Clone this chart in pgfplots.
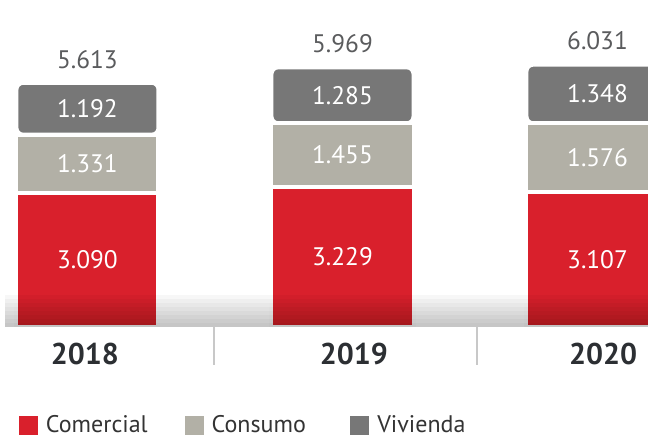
\documentclass[border=0pt]{standalone}
\usepackage{pgfplots}
\pgfplotsset{compat=1.18}
\usepackage{fontspec}
\setmainfont{PT Sans}

\definecolor{comercial}{HTML}{D9202C}
\definecolor{consumo}{HTML}{B2B0A6}
\definecolor{vivienda}{HTML}{777777}
\definecolor{totaltxt}{HTML}{5A5B5D}
\definecolor{yeartxt}{HTML}{2C2F33}
\definecolor{legtxt}{HTML}{333333}
\definecolor{sepgray}{HTML}{C8C8C8}

% 1 px of the reference = 0.75pt; y: 43.5 px per 1000
\pgfplotsset{
    canvas/.style={at={(0,0)}, anchor=south west,
        scale only axis, width=486pt, height=328.5pt,
        xmin=-0.343, xmax=2.198, ymin=-2552, ymax=7517},
}
\begin{document}
\begin{tikzpicture}
\begin{axis}[
    canvas, name=ax,
    axis x line=middle, axis y line=none,
    x axis line style={draw=none},
    major tick length=0pt,
    ytick=\empty,
    xtick={-0.01,1.045,2.022},
    xticklabels={2018,2019,2020},
    xticklabel style={anchor=base, yshift=-28.5pt, text=yeartxt,
        font=\fontsize{22.5}{22.5}\selectfont\bfseries},
    ybar stacked, bar width=0.557,
    every axis plot/.append style={draw=white, line width=3pt},
    /pgf/number format/.cd, 1000 sep={.}, assume math mode=true,
    /pgfplots/.cd,
    nodes near coords,
    every node near coord/.append style={
        anchor=center, text=white, font=\fontsize{19}{19}\selectfont},
    legend columns=3,
    legend style={draw=none, fill=none, at={(rel axis cs:0.0293,0.006)},
        anchor=south west, inner sep=0pt, outer sep=0pt,
        font=\fontsize{18}{18}\selectfont, text=legtxt,
        nodes={inner sep=0pt, text width=104pt},
        /tikz/every odd column/.append style={column sep=6pt},
        /tikz/every even column/.append style={column sep=0pt}},
    legend image code/.code={\fill[#1, draw=none, sharp corners] (0pt,-8pt) rectangle (14.25pt,6.25pt);},
]
\addplot[fill=comercial] coordinates {(0,3090) (1,3229) (2,3107)};
\addplot[fill=consumo] coordinates {(0,1331) (1,1455) (2,1576)};
\addplot[fill=vivienda, rounded corners=5pt] coordinates {(0,1192) (1,1285) (2,1348)};
\legend{Comercial, Consumo, Vivienda}
\end{axis}

\begin{axis}[
    canvas, hide axis,
    /pgf/number format/.cd, 1000 sep={.}, assume math mode=true,
    /pgfplots/.cd,
    nodes near coords,
    every node near coord/.append style={anchor=base, yshift=11pt,
        text=totaltxt, font=\fontsize{19}{19}\selectfont},
]
% totals above the bars
\addplot[draw=none, mark=none, point meta=y] coordinates {(0,5613) (1,5969) (2,6031)};

% soft shadow along the base
\fill[black, opacity=0.03] (axis cs:-0.3235,0) rectangle (axis cs:2.198,92);
\fill[black, opacity=0.03] (axis cs:-0.3235,0) rectangle (axis cs:2.198,184);
\fill[black, opacity=0.03] (axis cs:-0.3235,0) rectangle (axis cs:2.198,276);
\fill[black, opacity=0.03] (axis cs:-0.3235,0) rectangle (axis cs:2.198,368);
\fill[black, opacity=0.03] (axis cs:-0.3235,0) rectangle (axis cs:2.198,460);
\fill[black, opacity=0.03] (axis cs:-0.3235,0) rectangle (axis cs:2.198,552);
\fill[black, opacity=0.03] (axis cs:-0.3235,0) rectangle (axis cs:2.198,644);
\fill[black, opacity=0.03] (axis cs:-0.3235,0) rectangle (axis cs:2.198,735);

\draw[sepgray, line width=1.1pt] (axis cs:0.496,0) -- (axis cs:0.496,-874);
\draw[sepgray, line width=1.1pt] (axis cs:1.527,0) -- (axis cs:1.527,-874);
\end{axis}
\pgfresetboundingbox
\path[use as bounding box] (ax.south west) rectangle (ax.north east);
\end{tikzpicture}
\end{document}
